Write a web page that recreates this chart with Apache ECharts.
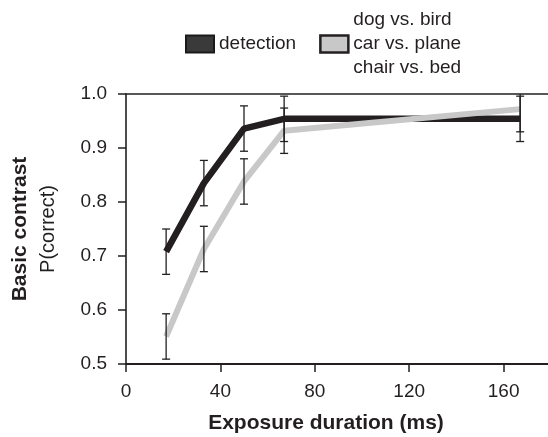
<!DOCTYPE html>
<html>
<head>
<meta charset="utf-8">
<script src="https://cdn.jsdelivr.net/npm/echarts@6/dist/echarts.min.js"></script>
<style>
  html, body { margin: 0; padding: 0; background: #fff; }
  #main { width: 548px; height: 437px; }
</style>
</head>
<body>
<div id="main"></div>
<script>
// exposure durations (ms)
var durations = [17, 33, 50, 67, 167];
// detection task
var detection = [0.708, 0.835, 0.936, 0.954, 0.954];
var detectionErr = [0.042, 0.042, 0.042, 0.042, 0.042];
// categorization (dog vs. bird / car vs. plane / chair vs. bed)
var categorization = [0.551, 0.713, 0.838, 0.932, 0.972];
var categorizationErr = [0.042, 0.042, 0.042, 0.042, 0.042];

var xTicks = [0, 40, 80, 120, 160];
var yTicks = [0.5, 0.6, 0.7, 0.8, 0.9, 1.0];

var FONT = "'Liberation Sans', Arial, sans-serif";
var INK = "#231f20";
var GREY = "#c8c8c8";

function pairs(ys) {
  return durations.map(function (d, i) { return [d, ys[i]]; });
}

function errData(ys, errs) {
  return durations.map(function (d, i) { return [d, ys[i] - errs[i], ys[i] + errs[i]]; });
}

function renderErr(params, api) {
  var yMax = yTicks[yTicks.length - 1];
  var x = api.value(0);
  var lo = api.value(1);
  var hi = api.value(2);
  var pLo = api.coord([x, lo]);
  var pHi = api.coord([x, Math.min(hi, yMax)]);
  var w = 4;
  var style = { stroke: INK, lineWidth: 1.3 };
  var children = [
    { type: "line", shape: { x1: pLo[0], y1: pLo[1], x2: pHi[0], y2: pHi[1] }, style: style },
    { type: "line", shape: { x1: pLo[0] - w, y1: pLo[1], x2: pLo[0] + w, y2: pLo[1] }, style: style }
  ];
  if (hi <= yMax) {
    children.push({ type: "line", shape: { x1: pHi[0] - w, y1: pHi[1], x2: pHi[0] + w, y2: pHi[1] }, style: style });
  }
  return { type: "group", children: children };
}

var chart = echarts.init(document.getElementById("main"));

var option = {
  animation: false,
  textStyle: { fontFamily: FONT },
  legend: {
    left: 185,
    top: 8,
    padding: 0,
    itemWidth: 28,
    itemHeight: 17,
    itemGap: 23,
    textStyle: { fontSize: 19, lineHeight: 24, color: INK, fontFamily: FONT },
    data: [
      { name: "detection", icon: "rect", itemStyle: { color: "#3a3a3a", borderColor: "#1a1a1a", borderWidth: 2 } },
      { name: "dog vs. bird\ncar vs. plane\nchair vs. bed", icon: "rect", itemStyle: { color: GREY, borderColor: INK, borderWidth: 2.5 } }
    ]
  },
  grid: {
    left: 126,
    right: 0,
    top: 94,
    bottom: 73,
    outerBoundsMode: "none"
  },
  xAxis: [
    {
      type: "value",
      min: 0,
      max: 178.8,
      interval: 40,
      name: "Exposure duration (ms)",
      nameLocation: "middle",
      nameGap: 49,
      nameTextStyle: { fontSize: 21, fontWeight: "bold", color: INK, fontFamily: FONT, padding: [0, 22, 0, 0] },
      axisLine: { lineStyle: { color: INK, width: 2 } },
      axisTick: { length: 8, lineStyle: { color: INK, width: 1.5 } },
      axisLabel: {
        fontSize: 19, color: INK, margin: 18, showMaxLabel: false,
        formatter: function (v) { return xTicks.indexOf(v) >= 0 ? String(v) : ""; }
      },
      splitLine: { show: false }
    },
    {
      type: "value",
      position: "top",
      min: 0,
      max: 178.8,
      axisLine: { show: true, onZero: false, lineStyle: { color: INK, width: 1.5 } },
      axisTick: { show: false },
      axisLabel: { show: false },
      splitLine: { show: false }
    }
  ],
  yAxis: {
    type: "value",
    min: yTicks[0],
    max: yTicks[yTicks.length - 1],
    interval: 0.1,
    name: "{a|Basic contrast}\n{b|P(correct)}",
    nameLocation: "middle",
    nameRotate: 90,
    nameGap: 64,
    nameTextStyle: {
      color: INK,
      lineHeight: 28,
      rich: {
        a: { fontSize: 21, fontWeight: "bold", color: INK, fontFamily: FONT, lineHeight: 28 },
        b: { fontSize: 20, color: INK, fontFamily: FONT, lineHeight: 28 }
      }
    },
    axisLine: { show: true, lineStyle: { color: INK, width: 1.6 } },
    axisTick: { show: true, length: 8, lineStyle: { color: INK, width: 1.5 } },
    axisLabel: {
      fontSize: 19, color: INK, margin: 19,
      formatter: function (v) { return v.toFixed(1); }
    },
    splitLine: { show: false }
  },
  series: [
    {
      name: "detection",
      type: "line",
      data: pairs(detection),
      showSymbol: false,
      symbol: "none",
      lineStyle: { color: INK, width: 6.5 },
      itemStyle: { color: "#3a3a3a" },
      z: 2
    },
    {
      name: "dog vs. bird\ncar vs. plane\nchair vs. bed",
      type: "line",
      data: pairs(categorization),
      showSymbol: false,
      symbol: "none",
      lineStyle: { color: GREY, width: 6 },
      itemStyle: { color: GREY },
      z: 3
    },
    {
      type: "custom",
      data: errData(detection, detectionErr),
      renderItem: renderErr,
      z: 5
    },
    {
      type: "custom",
      data: errData(categorization, categorizationErr),
      renderItem: renderErr,
      z: 5
    }
  ]
};

chart.setOption(option);
</script>
</body>
</html>
